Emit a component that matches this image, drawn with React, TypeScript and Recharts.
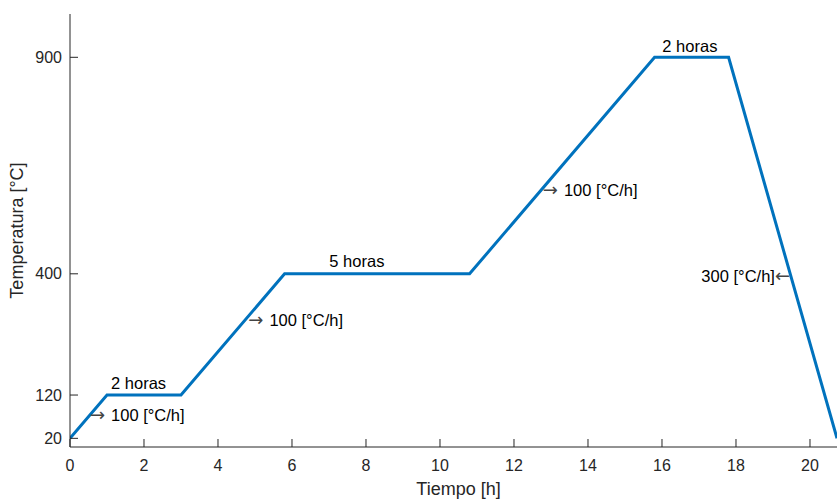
import { LineChart, Line, XAxis, YAxis, ReferenceDot } from "recharts";

// ciclo de tratamiento térmico
const tiempo = [0, 1, 3, 5.8, 10.8, 15.8, 17.8, 20.73];
const temperatura = [20, 120, 120, 400, 400, 900, 900, 20];

const xTicks = [0, 2, 4, 6, 8, 10, 12, 14, 16, 18, 20];
const yTicks = [20, 120, 400, 900];

// flecha: -1 a la izquierda del texto, 1 a la derecha, 0 sin flecha
const notaTexto = ["2 horas", "100 [°C/h]", "100 [°C/h]", "5 horas", "100 [°C/h]", "2 horas", "300 [°C/h]"];
const notaFlecha = [0, -1, -1, 0, -1, 0, 1];
const notaX = [1.11, 0.54, 4.82, 7.01, 12.78, 16.01, 19.46];
const notaY = [134, 61, 279, 415, 580, 913, 382];

const data = tiempo.map((t, i) => ({ t, T: temperatura[i] }));

const axisColor = "#262626";
const font = "'Liberation Sans', Arial, Helvetica, sans-serif";

const BottomTick = (props: any) => {
  const { x, y, payload } = props;
  return (
    <g>
      <line x1={x} x2={x} y1={y} y2={y - 8} stroke={axisColor} strokeWidth={1} />
      <text x={x} y={y + 24} textAnchor="middle" fontSize={16} fill={axisColor} fontFamily={font}>
        {payload.value}
      </text>
    </g>
  );
};

const TopTick = (props: any) => {
  const { x, y } = props;
  return <line x1={x} x2={x} y1={y} y2={y + 8} stroke={axisColor} strokeWidth={1} />;
};

const LeftTick = (props: any) => {
  const { x, y, payload } = props;
  return (
    <g>
      <line x1={x} x2={x + 8} y1={y} y2={y} stroke={axisColor} strokeWidth={1} />
      <text x={x - 8} y={y + 5.5} textAnchor="end" fontSize={16} fill={axisColor} fontFamily={font}>
        {payload.value}
      </text>
    </g>
  );
};

const Flecha = ({ dir }: { dir: number }) => (
  <tspan fontFamily="'DejaVu Sans', sans-serif" fontSize={18} fill="#444">
    {dir < 0 ? "\u2192" : "\u2190"}
  </tspan>
);

const NotaLabel = (props: any) => {
  const { viewBox, value, flecha } = props;
  const x = viewBox.x + viewBox.width / 2;
  const y = viewBox.y + viewBox.height / 2;
  return (
    <text x={x} y={y} textAnchor={flecha > 0 ? "end" : "start"} fontSize={16.5} fill="#000" fontFamily={font}>
      {flecha < 0 && <Flecha dir={-1} />}
      {flecha < 0 ? <tspan dx={6}>{value}</tspan> : value}
      {flecha > 0 && <Flecha dir={1} />}
    </text>
  );
};

export default function App() {
  return (
    <div style={{ position: "absolute", left: 0, top: 0, width: 837, height: 499, background: "#fff" }}>
      <LineChart width={837} height={499} data={data} margin={{ top: 14, right: 0, bottom: 0, left: 0 }}>
        <XAxis
          dataKey="t"
          type="number"
          domain={[0, 20.73]}
          allowDataOverflow
          ticks={xTicks}
          height={52}
          tickSize={0}
          tickMargin={0}
          tickLine={false}
          tick={<BottomTick />}
          axisLine={{ stroke: axisColor }}
          label={() => (
            <text x={458.5} y={495} textAnchor="middle" fontSize={18} fill={axisColor} fontFamily={font}>
              Tiempo [h]
            </text>
          )}
        />
        <XAxis
          xAxisId="top"
          dataKey="t"
          type="number"
          orientation="top"
          domain={[0, 20.73]}
          allowDataOverflow
          ticks={xTicks}
          height={0}
          tickSize={0}
          tickMargin={0}
          tickLine={false}
          tick={<TopTick />}
          axisLine={{ stroke: axisColor }}
        />
        <YAxis
          type="number"
          domain={[0, 1000]}
          allowDataOverflow
          ticks={yTicks}
          width={70}
          tickSize={0}
          tickMargin={0}
          tickLine={false}
          tick={<LeftTick />}
          axisLine={{ stroke: axisColor }}
          label={() => (
            <text
              x={22.5}
              y={230.5}
              transform="rotate(-90, 22.5, 230.5)"
              textAnchor="middle"
              fontSize={18}
              fill={axisColor}
              fontFamily={font}
            >
              Temperatura [°C]
            </text>
          )}
        />
        <Line
          type="linear"
          dataKey="T"
          stroke="#0072BD"
          strokeWidth={3}
          dot={false}
          isAnimationActive={false}
        />
        {notaTexto.map((txt, i) => (
          <ReferenceDot
            key={i}
            x={notaX[i]}
            y={notaY[i]}
            r={0}
            fill="none"
            stroke="none"
            label={<NotaLabel value={txt} flecha={notaFlecha[i]} />}
          />
        ))}
      </LineChart>
    </div>
  );
}
